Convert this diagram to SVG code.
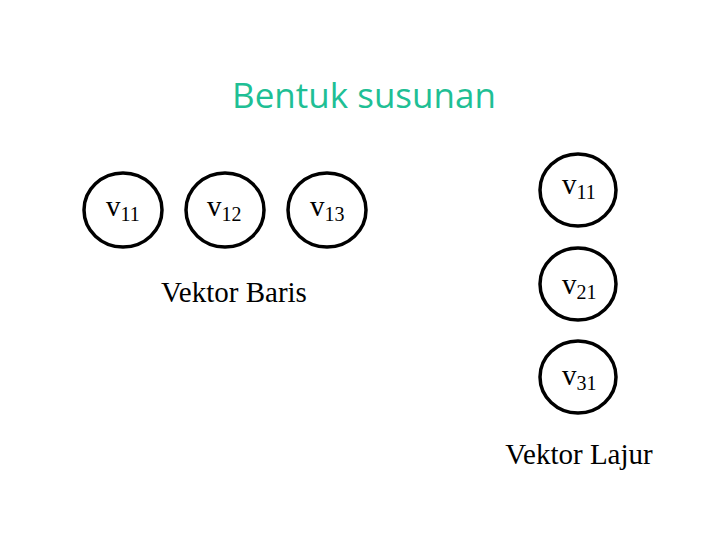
<svg xmlns="http://www.w3.org/2000/svg" width="720" height="540" viewBox="0 0 720 540">
<style>
.n ellipse{fill:none;stroke:#000;stroke-width:3.5}
.v{font-family:"Liberation Serif",serif;font-size:29px;fill:#000}
.s{font-size:20px}
.lbl{font-family:"Liberation Serif",serif;font-size:29px;fill:#000}
</style>
<rect width="720" height="540" fill="#fff"/>
<text x="364" y="108" text-anchor="middle" font-family="Open Sans, sans-serif" font-size="35" font-weight="500" fill="#1fbf95">Bentuk susunan</text>
<g id="r11" class="n"><ellipse cx="123" cy="210" rx="39" ry="37"/><text class="v" x="106" y="216">v<tspan class="s" dy="5">11</tspan></text></g>
<g id="r12" class="n"><ellipse cx="225" cy="210" rx="39" ry="37"/><text class="v" x="207" y="216">v<tspan class="s" dy="5">12</tspan></text></g>
<g id="r13" class="n"><ellipse cx="327" cy="210" rx="39" ry="37"/><text class="v" x="310" y="216">v<tspan class="s" dy="5">13</tspan></text></g>
<g id="c11" class="n"><ellipse cx="578" cy="190" rx="38" ry="36"/><text class="v" x="562" y="194">v<tspan class="s" dy="5">11</tspan></text></g>
<g id="c21" class="n"><ellipse cx="578" cy="284" rx="38" ry="36"/><text class="v" x="562" y="294">v<tspan class="s" dy="5">21</tspan></text></g>
<g id="c31" class="n"><ellipse cx="578" cy="377" rx="38" ry="36"/><text class="v" x="562" y="385">v<tspan class="s" dy="5">31</tspan></text></g>
<g id="connectors"/>
<text class="lbl" x="234" y="302" text-anchor="middle">Vektor Baris</text>
<text class="lbl" x="579" y="464" text-anchor="middle">Vektor Lajur</text>
</svg>
